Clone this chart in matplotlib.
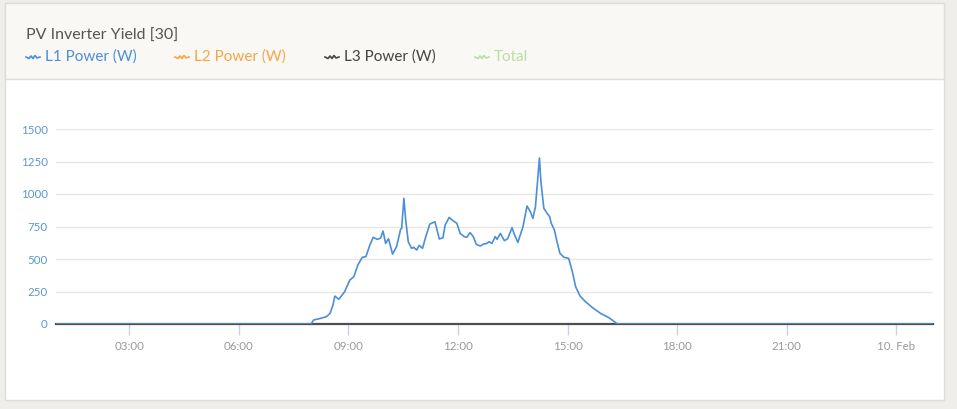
import numpy as np
import matplotlib.pyplot as plt
from matplotlib.lines import Line2D
from matplotlib.patches import Rectangle

plt.rcParams['font.family'] = ['Lato', 'DejaVu Sans']

# hours since midnight 9 Feb (25 = 01:00 on 10 Feb)
hours = [1.0, 7.98, 8.05, 8.21, 8.40, 8.50, 8.58, 8.63, 8.74, 8.90, 9.04, 9.15,
         9.26, 9.38, 9.48, 9.59, 9.68, 9.79, 9.88, 9.95, 10.02, 10.10, 10.21,
         10.32, 10.43, 10.46, 10.52, 10.57, 10.64, 10.73, 10.79, 10.87, 10.94,
         11.03, 11.12, 11.23, 11.31, 11.37, 11.49, 11.59, 11.65, 11.76, 11.84,
         11.97, 12.06, 12.17, 12.24, 12.33, 12.42, 12.50, 12.61, 12.70, 12.79,
         12.85, 12.93, 13.02, 13.07, 13.16, 13.27, 13.36, 13.48, 13.55, 13.64,
         13.78, 13.89, 13.98, 14.05, 14.12, 14.23, 14.27, 14.35, 14.44, 14.51,
         14.55, 14.64, 14.71, 14.79, 14.90, 15.03, 15.13, 15.22, 15.34, 15.49,
         15.68, 15.90, 16.13, 16.34, 16.40, 25.0]
l1_power = [0, 0, 31, 41, 56, 82, 146, 215, 190, 249, 338, 364,
            454, 513, 518, 608, 667, 651, 660, 715, 620, 656, 538,
            595, 728, 736, 967, 800, 633, 582, 590, 569, 605,
            582, 672, 769, 779, 787, 654, 664, 761, 820, 800,
            774, 697, 672, 667, 703, 672, 613, 600, 615, 620,
            633, 620, 672, 651, 697, 641, 656, 741, 685, 628,
            749, 908, 864, 813, 900, 1277, 1095, 890, 851, 826,
            777, 723, 633, 544, 513, 505, 403, 287, 215, 172,
            126, 82, 49, 5, 0, 0]

tick_hours = [3, 6, 9, 12, 15, 18, 21, 24]
tick_labels = ['03:00', '06:00', '09:00', '12:00', '15:00', '18:00', '21:00', '10. Feb']
y_ticks = [0, 250, 500, 750, 1000, 1250, 1500]

legend_names = ['L1 Power (W)', 'L2 Power (W)', 'L3 Power (W)', 'Total']
legend_colors = ['#4a8fd8', '#f7a545', '#444444', '#b9dfa3']
legend_x = [26, 175, 325, 475]

W, H = 957, 409
fig = plt.figure(figsize=(W / 100, H / 100), dpi=100)
fig.patch.set_facecolor('#efeeea')

# card and header, kept behind the axes
fig.add_artist(Rectangle((5 / W, 1 - 400 / H), 939 / W, 397 / H, transform=fig.transFigure,
                         facecolor='white', edgecolor='#dddcd8', lw=1, zorder=-10))
fig.add_artist(Rectangle((5 / W, 1 - 79 / H), 939 / W, 76 / H, transform=fig.transFigure,
                         facecolor='#f9f8f5', edgecolor='#dddcd8', lw=1, zorder=-10))

fig.text(26 / W, 1 - 36 / H, 'PV Inverter Yield [30]', fontsize=11.5, color='#555555',
         va='center', ha='left')

for name, col, x0 in zip(legend_names, legend_colors, legend_x):
    wx = np.array([0, 3, 5, 7, 9, 11, 14]) + x0
    wy = np.array([0, 1.5, -1, 1.5, -1.5, 1, 0]) + 57
    fig.add_artist(Line2D(wx / W, 1 - wy / H, transform=fig.transFigure, color=col, lw=1.2))
    fig.text((x0 + 19) / W, 1 - 57 / H, name, fontsize=11, color=col, va='center', ha='left')

ax = fig.add_axes([56 / W, 1 - 324 / H, 877 / W, 195 / H])
ax.patch.set_alpha(0)
ax.plot(hours, l1_power, color='#4a8fd8', lw=1.2, zorder=3)
ax.set_xlim(1, 25)
ax.set_ylim(0, 1500)

ax.set_yticks(y_ticks)
ax.set_yticklabels([str(v) for v in y_ticks])
ax.grid(axis='y', color='#e6e6e6', lw=1)
ax.set_axisbelow(True)
ax.set_xticks(tick_hours)
ax.set_xticklabels(tick_labels)

for s in ['top', 'right', 'left']:
    ax.spines[s].set_visible(False)
ax.spines['bottom'].set_color('#4f4f4f')
ax.spines['bottom'].set_linewidth(1.6)

ax.tick_params(axis='y', length=0, labelsize=8.3, labelcolor='#5a96d6', pad=6)
ax.tick_params(axis='x', length=8, width=1, color='#c8d3e1', labelsize=8.3,
               labelcolor='#999999', pad=4)

fig.savefig('out.png', dpi=100, facecolor=fig.get_facecolor())
